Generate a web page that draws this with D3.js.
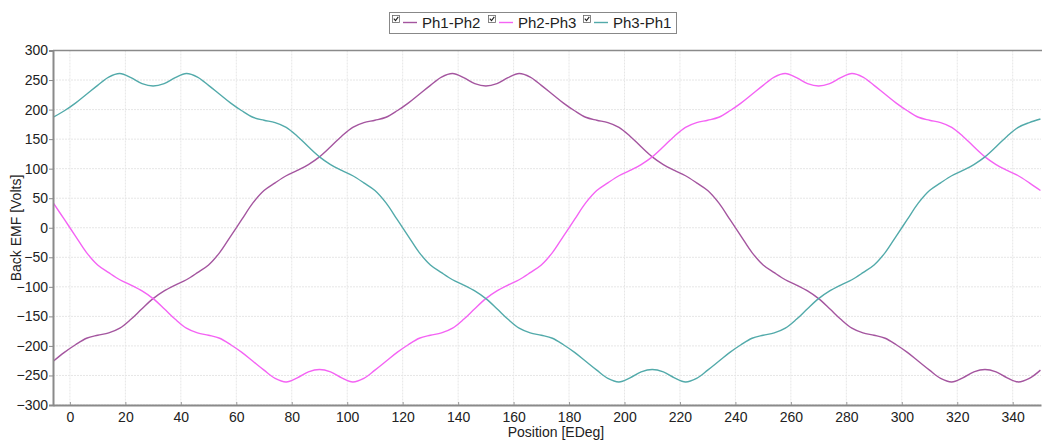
<!DOCTYPE html>
<html>
<head>
<meta charset="utf-8">
<script src="https://cdn.jsdelivr.net/npm/d3@7"></script>
<style>
  html, body { margin: 0; padding: 0; background: #ffffff; }
  svg { display: block; }
  text { font-family: "Liberation Sans", Arial, sans-serif; fill: #222; }
</style>
</head>
<body>
<svg id="chart" width="1042" height="441"></svg>
<script>
// ---- Data ----
const positions = [-6,-2,2,6,10,14,18,22,26,30,34,38,42,46,50,54,58,62,66,70,74,78,82,86,90,94,98,102,106,110,114,118,122,126,130,134,138,142,146,150,154,158,162,166,170,174,178,182,186,190,194,198,202,206,210,214,218,222,226,230,234,238,242,246,250,254,258,262,266,270,274,278,282,286,290,294,298,302,306,310,314,318,322,326,330,334,338,342,346,350];

const ph1ph2 = [-226,-211,-198,-187,-182,-178,-170,-155,-137,-120,-107,-97,-88,-76,-63,-42,-14,14,42,63,76,88,97,107,120,137,155,170,178,182,
  187,198,211,226,241,255,261,254,244,240,244,254,261,255,241,226,211,198,187,182,178,170,155,137,120,107,97,88,76,63,
  42,14,-14,-42,-63,-76,-88,-97,-107,-120,-137,-155,-170,-178,-182,-187,-198,-211,-226,-241,-255,-261,-254,-244,-240,-244,-254,-261,-255,-241];

const ph2ph3 = [42,14,-14,-42,-63,-76,-88,-97,-107,-120,-137,-155,-170,-178,-182,-187,-198,-211,-226,-241,-255,-261,-254,-244,-240,-244,-254,-261,-255,-241,
  -226,-211,-198,-187,-182,-178,-170,-155,-137,-120,-107,-97,-88,-76,-63,-42,-14,14,42,63,76,88,97,107,120,137,155,170,178,182,
  187,198,211,226,241,255,261,254,244,240,244,254,261,255,241,226,211,198,187,182,178,170,155,137,120,107,97,88,76,63];

const ph3ph1 = [187,198,211,226,241,255,261,254,244,240,244,254,261,255,241,226,211,198,187,182,178,170,155,137,120,107,97,88,76,63,
  42,14,-14,-42,-63,-76,-88,-97,-107,-120,-137,-155,-170,-178,-182,-187,-198,-211,-226,-241,-255,-261,-254,-244,-240,-244,-254,-261,-255,-241,
  -226,-211,-198,-187,-182,-178,-170,-155,-137,-120,-107,-97,-88,-76,-63,-42,-14,14,42,63,76,88,97,107,120,137,155,170,178,184];

const seriesNames = ["Ph1-Ph2", "Ph2-Ph3", "Ph3-Ph1"];
const xTicks = [0,20,40,60,80,100,120,140,160,180,200,220,240,260,280,300,320,340];
const yTicks = [-300,-250,-200,-150,-100,-50,0,50,100,150,200,250,300];
const xTitle = "Position [EDeg]";
const yTitle = "Back EMF [Volts]";

// ---- Layout ----
const colors = ["#a4559f", "#f463f4", "#52aaaa"];
const plotL = 53, plotR = 1041, plotT = 50.5, plotB = 405;

const svg = d3.select("#chart");
const x = d3.scaleLinear().domain([-6.1, 350.2]).range([plotL, plotR]);
const y = d3.scaleLinear().domain([-300, 300]).range([plotB, plotT]);

// grid
const grid = svg.append("g");
grid.selectAll("line.vx").data(xTicks).enter().append("line")
  .attr("x1", d => x(d)).attr("x2", d => x(d))
  .attr("y1", plotT).attr("y2", plotB)
  .attr("stroke", "#e6e6e6").attr("stroke-width", 1).attr("stroke-dasharray", "2,1");
grid.selectAll("line.hy").data(yTicks).enter().append("line")
  .attr("x1", plotL).attr("x2", plotR)
  .attr("y1", d => y(d)).attr("y2", d => y(d))
  .attr("stroke", "#e6e6e6").attr("stroke-width", 1).attr("stroke-dasharray", "2,1");

// clip
svg.append("clipPath").attr("id", "plotclip").append("rect")
  .attr("x", plotL).attr("y", plotT).attr("width", plotR - plotL + 1).attr("height", plotB - plotT);

const line = d3.line().x((d, i) => x(positions[i])).y(d => y(d)).curve(d3.curveCatmullRom.alpha(0.5));
const allSeries = [ph1ph2, ph2ph3, ph3ph1];
svg.append("g").attr("clip-path", "url(#plotclip)")
  .selectAll("path").data(allSeries).enter().append("path")
  .attr("d", d => line(d))
  .attr("fill", "none")
  .attr("stroke", (d, i) => colors[i])
  .attr("stroke-width", 1.4);

// frame top line
svg.append("line").attr("x1", plotL).attr("x2", plotR + 1).attr("y1", plotT).attr("y2", plotT)
  .attr("stroke", "#8a8a8a").attr("stroke-width", 1.5);

// Y axis
const yAxis = d3.axisLeft(y).tickValues(yTicks).tickSize(4).tickPadding(1).tickFormat(d3.format("d"));
const gy = svg.append("g").attr("transform", `translate(${plotL},0)`).call(yAxis);
gy.select(".domain").attr("stroke", "#8a8a8a").attr("stroke-width", 2);
gy.selectAll(".tick line").attr("stroke", "#8a8a8a");
gy.selectAll(".tick text").attr("font-size", 14).attr("font-family", "Liberation Sans, Arial, sans-serif").attr("fill", "#222");

// X axis
const xAxis = d3.axisBottom(x).tickValues(xTicks).tickSizeInner(-3).tickSizeOuter(0).tickPadding(7);
const gx = svg.append("g").attr("transform", `translate(0,${plotB})`).call(xAxis);
gx.select(".domain").attr("stroke", "#8a8a8a").attr("stroke-width", 2);
gx.selectAll(".tick line").attr("stroke", "#9a9a9a");
gx.selectAll(".tick text").attr("font-size", 14).attr("font-family", "Liberation Sans, Arial, sans-serif").attr("fill", "#222");

// titles
svg.append("text").attr("x", 556).attr("y", 437).attr("text-anchor", "middle")
  .attr("font-size", 14).text(xTitle);
svg.append("text").attr("transform", "translate(21,228) rotate(-90)").attr("text-anchor", "middle")
  .attr("font-size", 14).text(yTitle);

// legend
const lg = svg.append("g");
lg.append("rect").attr("x", 389.5).attr("y", 12.5).attr("width", 287).attr("height", 21)
  .attr("fill", "#fff").attr("stroke", "#888").attr("stroke-width", 1);
const legendX = [392, 488, 583];
seriesNames.forEach((name, i) => {
  const g = lg.append("g").attr("transform", `translate(${legendX[i]},0)`);
  g.append("rect").attr("x", 0.5).attr("y", 15.5).attr("width", 7).attr("height", 7)
    .attr("fill", "#fff").attr("stroke", "#666").attr("stroke-width", 0.8);
  g.append("path").attr("d", "M1.8,18.6 L3.5,20.6 L6.3,16.8").attr("fill", "none")
    .attr("stroke", "#222").attr("stroke-width", 1.1);
  g.append("line").attr("x1", 11).attr("x2", 25).attr("y1", 22.5).attr("y2", 22.5)
    .attr("stroke", colors[i]).attr("stroke-width", 1.4);
  g.append("text").attr("x", 30).attr("y", 28).attr("font-size", 15).text(name);
});
</script>
</body>
</html>
